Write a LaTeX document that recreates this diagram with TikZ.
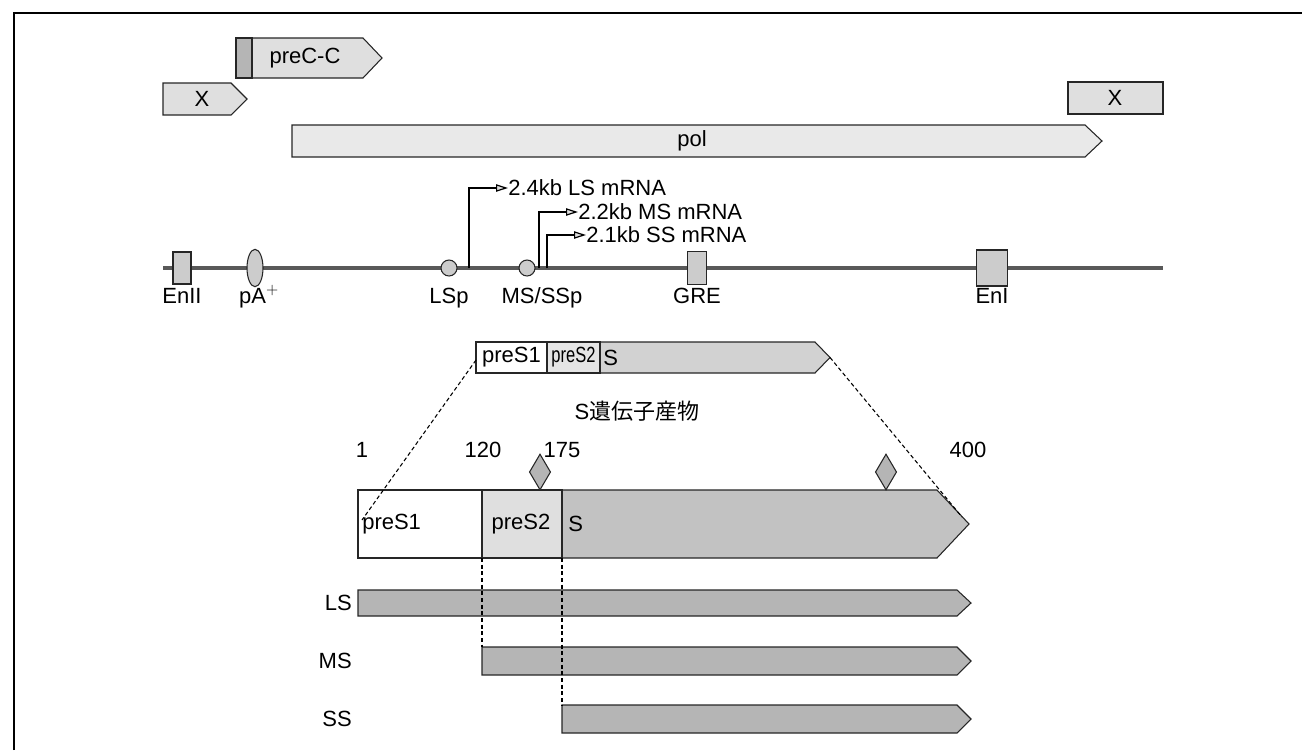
\documentclass[tikz,border=0pt]{standalone}
\usepackage{fontspec}
\setmainfont{Liberation Sans}
\newfontfamily\cjk{Noto Sans CJK JP}
\usetikzlibrary{arrows.meta,shapes.geometric}
\newcommand{\genebar}[6]{% style, x1, xtip, tiplen, ytop, ybot
  \path[#1] (#2,#5) -- ({#3-#4},#5) -- (#3,{(#5+#6)/2}) -- ({#3-#4},#6) -- (#2,#6) -- cycle;}
\tikzset{
  outl/.style={draw=black!85, line width=0.8pt},
  lt/.style={outl, fill=gray!25},
  md/.style={outl, fill=gray!40},
  dk/.style={outl, fill=gray!58},
  wh/.style={outl, fill=white},
  lbl/.style={font=\fontsize{16.5}{19}\selectfont, inner sep=0pt},
  cut/.style={line width=0.8pt, dash pattern=on 3pt off 2pt},
  prom/.style={line width=0.9pt, -{Triangle[length=9pt,width=5.5pt,fill=gray!25]}},
}
\begin{document}
\begin{tikzpicture}[x=0.75pt,y=-0.75pt]
\useasboundingbox (0,0) rectangle (1302,750);
% frame
\draw[line width=1.4pt] (14,750) -- (14,13) -- (1302,13);

% ORFs
\genebar{lt}{252}{382}{19}{38}{78}
\path[dk] (236,38) rectangle (252,78);
\node[lbl] (precc) at (305,58) {preC-C};
\genebar{lt}{163}{247}{16}{83}{115}
\node[lbl] (xl) at (202,99) {X};
\path[lt] (1068,82) rectangle (1163,114);
\node[lbl] (xr) at (1115,98) {X};
\genebar{lt, fill=gray!17}{292}{1102}{17}{125}{157}
\node[lbl] (pol) at (692,141) {pol};

% genome line
\draw[line width=2.3pt, black!65] (163,268) -- (1163,268);
\node[md, minimum width=13.5pt, minimum height=24pt, inner sep=0pt] (en2) at (182,268) {};
\node[md, ellipse, minimum width=12pt, minimum height=28pt, inner sep=0pt] (pa) at (255,268) {};
\node[md, circle, minimum size=12pt, inner sep=0pt] (lsp) at (449,268) {};
\node[md, circle, minimum size=12pt, inner sep=0pt] (mssp) at (527,268) {};
\node[md, minimum width=14pt, minimum height=25pt, inner sep=0pt] (gre) at (697,268) {};
\node[md, minimum width=23pt, minimum height=27pt, inner sep=0pt] (en1) at (992,268) {};
\node[lbl, anchor=base] (en2l) at (182,303) {EnII};
\node[lbl, anchor=base] (pal) at (259,303) {pA$^+$};
\node[lbl, anchor=base] (lspl) at (449,303) {LSp};
\node[lbl, anchor=base] (msspl) at (542,303) {MS/SSp};
\node[lbl, anchor=base] (grel) at (697,303) {GRE};
\node[lbl, anchor=base] (en1l) at (992,303) {EnI};

% promoters
\coordinate (lsb) at (469,268);
\coordinate (msb) at (539,268);
\coordinate (ssb) at (547,268);
\node[lbl, anchor=west] (lsm) at (508,188) {2.4kb LS mRNA};
\node[lbl, anchor=west] (msm) at (578,212) {2.2kb MS mRNA};
\node[lbl, anchor=west] (ssm) at (586,235) {2.1kb SS mRNA};
\draw[prom] (lsb) |- (lsm.west);
\draw[prom] (msb) |- (msm.west);
\draw[prom] (ssb) |- (ssm.west);

% small S gene bar
\genebar{outl, fill=gray!35}{600}{830}{15}{342}{373}
\path[outl, fill=gray!20] (547,342) rectangle (600,373);
\path[wh] (476,342) rectangle (547,373);
\node[lbl] (sp1) at (511.5,357.5) {preS1};
\node[lbl] (sp2) at (573.5,357.5) {\scalebox{0.75}[1]{preS2}};
\node[lbl, anchor=west] (ss) at (603,357.5) {S};
\node[lbl] (title) at (637,411) {S{\cjk 遺伝子産物}};
\coordinate (sl) at (476,360);
\coordinate (sr) at (830,357.5);

% numbers
\node[lbl, anchor=base] (n1) at (362,457) {1};
\node[lbl, anchor=base] (n120) at (483,457) {120};
\node[lbl, anchor=base] (n175) at (562,457) {175};
\node[lbl, anchor=base] (n400) at (968,457) {400};

% large bar
\genebar{outl, fill=gray!48}{562}{969}{32}{490}{558}
\path[outl, fill=gray!25] (482,490) rectangle (562,558);
\path[wh] (358,490) rectangle (482,558);
\node[lbl, anchor=west] (bp1) at (362,524) {preS1};
\node[lbl] (bp2) at (521,524) {preS2};
\node[lbl, anchor=west] (bs) at (568,524) {S};
\coordinate (bl) at (362,520);
\coordinate (br) at (962,517);
\node[dk, diamond, minimum width=16pt, minimum height=27pt, inner sep=0pt] (g1) at (540,472) {};
\node[dk, diamond, minimum width=16pt, minimum height=27pt, inner sep=0pt] (g2) at (886,472) {};

\draw[cut] (sl) -- (bl);
\draw[cut] (sr) -- (br);

% LS MS SS
\genebar{dk}{358}{971}{14}{590}{616}
\genebar{dk}{482}{971}{14}{647}{675}
\genebar{dk}{562}{971}{14}{705}{733}
\node[lbl, anchor=east] (lsl) at (352,603) {LS};
\node[lbl, anchor=east] (msl) at (352,661) {MS};
\node[lbl, anchor=east] (ssl) at (352,719) {SS};
\coordinate (d1a) at (482,558);
\coordinate (d1b) at (482,647);
\coordinate (d2a) at (562,558);
\coordinate (d2b) at (562,705);
\draw[cut] (d1a) -- (d1b);
\draw[cut] (d2a) -- (d2b);
\end{tikzpicture}
\end{document}
